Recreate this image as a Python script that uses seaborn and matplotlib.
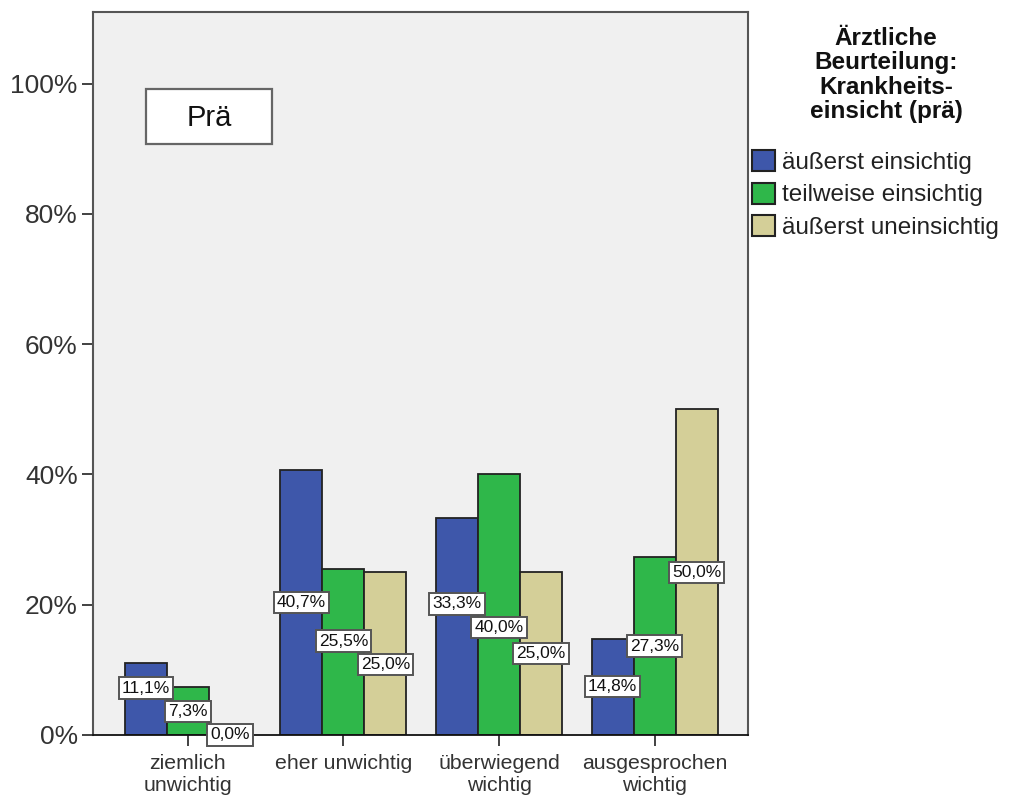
import pandas as pd
import numpy as np
import seaborn as sns
import matplotlib.pyplot as plt
from matplotlib.patches import Rectangle

categories = ["ziemlich\nunwichtig", "eher unwichtig", "überwiegend\nwichtig", "ausgesprochen\nwichtig"]
groups = ["äußerst einsichtig", "teilweise einsichtig", "äußerst uneinsichtig"]
vals_einsichtig = [11.1, 40.7, 33.3, 14.8]
vals_teilweise = [7.3, 25.5, 40.0, 27.3]
vals_uneinsichtig = [0.0, 25.0, 25.0, 50.0]
colors = ["#3e57aa", "#2fb74a", "#d4cf98"]
y_ticks = [0, 20, 40, 60, 80, 100]

df = pd.DataFrame({
    "kat": categories * 3,
    "gruppe": [g for g in groups for _ in categories],
    "prozent": vals_einsichtig + vals_teilweise + vals_uneinsichtig,
})

sns.set_style("white")
plt.rcParams["font.family"] = ["Liberation Sans", "DejaVu Sans"]

fig = plt.figure(figsize=(10.1, 8.01), dpi=100)
ax = fig.add_axes([0.092, 0.0824, 0.6486, 0.9026])
ax.set_facecolor("#f0f0f0")

sns.barplot(data=df, x="kat", y="prozent", hue="gruppe", order=categories, hue_order=groups,
            palette=colors, width=0.81, edgecolor="#222222", linewidth=1.3, saturation=1,
            ax=ax, legend=True)

ax.set_xlim(-0.61, 3.6)
ax.set_ylim(0, 111)
ax.set_yticks(y_ticks)
ax.set_yticklabels([f"{t}%" for t in y_ticks], fontsize=19, color="#333333")
ax.set_xticks(range(len(categories)))
ax.set_xticklabels(categories, fontsize=15.3, color="#333333")
ax.set_xlabel("")
ax.set_ylabel("")
ax.tick_params(axis="both", direction="out", length=8, width=1.3, color="#333333", bottom=True, left=True)
ax.tick_params(axis="x", pad=6)
ax.tick_params(axis="y", pad=3)
for side in ["left", "top", "right"]:
    ax.spines[side].set_color("#555555")
    ax.spines[side].set_linewidth(1.5)
ax.spines["bottom"].set_color("#111111")
ax.spines["bottom"].set_linewidth(1.3)

# value labels in the middle of each bar; where two overlap the earlier series goes above
gap = 3.6
for i in range(len(categories)):
    items = []
    for cont in ax.containers:
        p = cont.patches[i]
        items.append([p.get_x() + p.get_width() / 2, p.get_height() / 2, p.get_height()])
    for _ in range(20):
        for a, b in zip(items[:-1], items[1:]):
            if abs(a[1] - b[1]) < gap:
                mid = (a[1] + b[1]) / 2
                a[1] = mid + gap / 2
                b[1] = mid - gap / 2
        for it in items:
            it[1] = max(it[1], 0)
    for x, y, v in items:
        ax.text(x, y, f"{v:.1f}%".replace(".", ","), ha="center", va="center", fontsize=12.5,
                color="#111111", zorder=5,
                bbox=dict(boxstyle="square,pad=0.18", facecolor="white", edgecolor="#555555", linewidth=1.4))

# Prä box
ax.add_patch(Rectangle((0.081, 0.817), 0.192, 0.076, transform=ax.transAxes, facecolor="white",
                       edgecolor="#666666", linewidth=1.6, zorder=4))
ax.text(0.081 + 0.096, 0.817 + 0.036, "Prä", transform=ax.transAxes, ha="center", va="center",
        fontsize=21, color="#111111", zorder=5)

# legend
handles, labels = ax.get_legend_handles_labels()
leg = ax.legend(handles, labels, loc="upper left", bbox_to_anchor=(752 / 1010, 1 - 150 / 801),
                bbox_transform=fig.transFigure, frameon=False, fontsize=17.5, handlelength=0.95,
                handleheight=0.95, handletextpad=0.3, labelspacing=0.36, borderpad=0, borderaxespad=0,
                labelcolor="#222222")
for h in leg.legend_handles:
    h.set_linewidth(1.5)
fig.text(886 / 1010, 1 - 27 / 801, "Ärztliche\nBeurteilung:\nKrankheits-\neinsicht (prä)",
         ha="center", va="top", fontsize=17.5, fontweight="bold", linespacing=1.08, color="#111111")

plt.savefig("out.png", dpi=100)
